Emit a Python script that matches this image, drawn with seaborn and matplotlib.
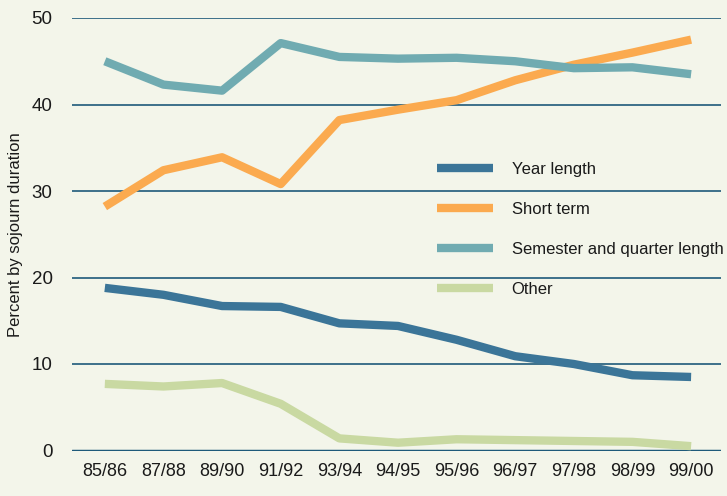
import pandas as pd
import matplotlib
matplotlib.use('Agg')
import matplotlib.pyplot as plt
import seaborn as sns

# data
years = ['85/86', '87/88', '89/90', '91/92', '93/94', '94/95',
         '95/96', '96/97', '97/98', '98/99', '99/00']
year_length = [18.8, 18.0, 16.7, 16.6, 14.7, 14.4, 12.8, 10.9, 10.0, 8.7, 8.5]
short_term = [28.2, 32.4, 33.9, 30.8, 38.2, 39.4, 40.5, 42.8, 44.6, 46.0, 47.5]
semester = [45.0, 42.3, 41.6, 47.1, 45.5, 45.3, 45.4, 45.0, 44.2, 44.3, 43.5]
other = [7.7, 7.4, 7.8, 5.4, 1.4, 0.9, 1.3, 1.2, 1.1, 1.0, 0.5]

series = ['Year length', 'Short term', 'Semester and quarter length', 'Other']
colors = ['#3b7598', '#fbaa4f', '#70abb1', '#c9d9a2']

rows = []
for name, vals in zip(series, [year_length, short_term, semester, other]):
    for i, v in enumerate(vals):
        rows.append({'pos': i, 'value': v, 'series': name})
df = pd.DataFrame(rows)

sns.set_style('white')
plt.rcParams['font.family'] = ['Liberation Sans', 'DejaVu Sans']

bg = '#f3f5ea'
grid = '#1e5a7a'

fig = plt.figure(figsize=(7.27, 4.96), dpi=100, facecolor=bg)
ax = fig.add_axes([72/727, 1 - 450.5/496, 649/727, 432.5/496])
ax.set_facecolor(bg)

for y in [10, 20, 30, 40, 50]:
    ax.axhline(y, color=grid, lw=1.2, zorder=1)
ax.axhline(0, color=grid, lw=2.5, zorder=1)

sns.lineplot(data=df, x='pos', y='value', hue='series', hue_order=series,
             palette=colors, lw=6, ax=ax, zorder=3, legend=False,
             solid_capstyle='butt')

for s in ax.spines.values():
    s.set_visible(False)

ax.set_xlim(-0.56, 10.51)
ax.set_ylim(0, 50)
ax.set_xticks(range(len(years)))
ax.set_xticklabels(years)
ax.set_yticks([0, 10, 20, 30, 40, 50])
ax.tick_params(axis='x', length=0, pad=9, labelsize=13, colors='#1a1a1a')
ax.tick_params(axis='y', length=11, width=1.5, color='#2a2a2a', pad=3,
               labelsize=13.5, labelcolor='#1a1a1a')
ax.set_xlabel('')
ax.set_ylabel('Percent by sojourn duration', fontsize=12, color='#1a1a1a', labelpad=6)

handles = [plt.Line2D([], [], color=c, lw=6, solid_capstyle='butt') for c in colors]
leg = ax.legend(handles, series, loc='upper left', bbox_to_anchor=(0.562, 0.668),
                frameon=False, fontsize=12, handlelength=3.4, handletextpad=1.1,
                labelspacing=1.5, borderaxespad=0, borderpad=0)
for t in leg.get_texts():
    t.set_color('#1a1a1a')

fig.savefig('out.png', dpi=100, facecolor=bg)
